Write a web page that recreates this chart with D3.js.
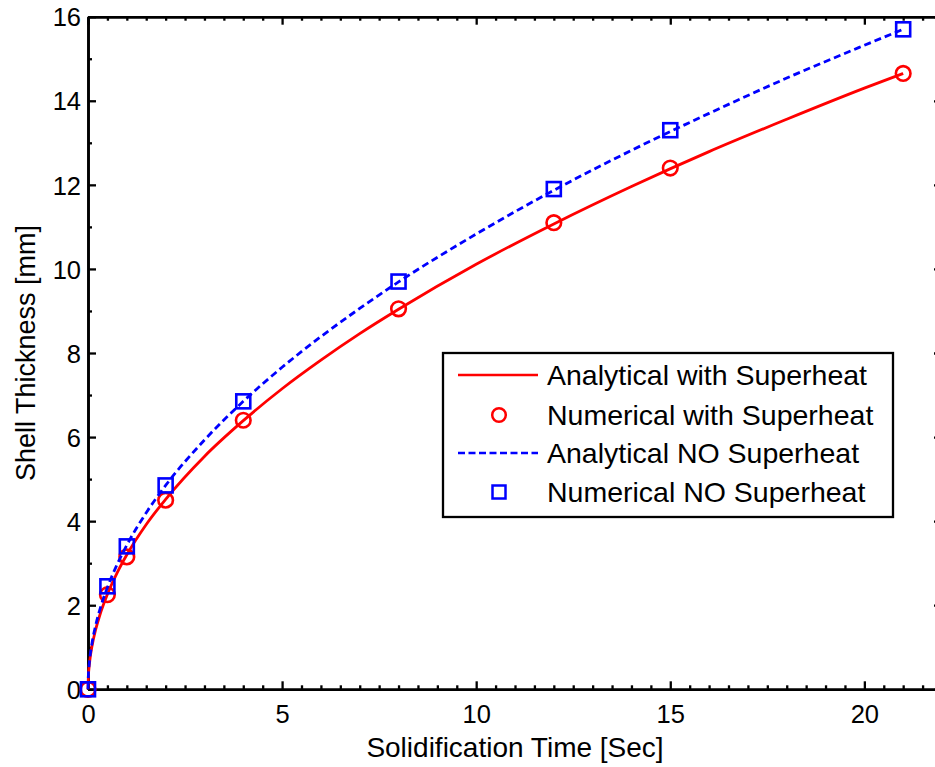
<!DOCTYPE html>
<html>
	<head>
		<script src="https://d3js.org/d3.v7.min.js"></script>
		<title>Shell thickness vs solidification time</title>
		<style>
			body { margin: 0; background: #fff; }
			text { font-family: "Liberation Sans", Arial, sans-serif; fill: #000; }
		</style>
	</head>
	<body>
		<div id="chart"></div>
		<script>
			// analytical curves, values
			const lineTime = [0, 0.01, 0.02, 0.05, 0.1, 0.2, 0.3, 0.5, 0.75, 1, 1.5, 2, 3, 4, 5, 6, 7, 8, 10, 12, 14, 16, 18, 20, 21];
			const analyticalWith = [0, 0.32, 0.45, 0.715, 1.01, 1.43, 1.75, 2.26, 2.77, 3.2, 3.92, 4.52, 5.54, 6.39, 7.15, 7.83, 8.46, 9.04, 10.11, 11.07, 11.96, 12.79, 13.56, 14.3, 14.65];
			const analyticalNo = [0, 0.34, 0.48, 0.77, 1.08, 1.53, 1.88, 2.42, 2.97, 3.43, 4.2, 4.85, 5.93, 6.85, 7.66, 8.39, 9.06, 9.69, 10.83, 11.87, 12.82, 13.7, 14.54, 15.32, 15.7];

			// numerical points
			const numTime = [0, 0.5, 1, 2, 4, 8, 12, 15, 21];
			const numericalWith = [0, 2.25, 3.15, 4.5, 6.4, 9.05, 11.1, 12.4, 14.65];
			const numericalNo = [0, 2.45, 3.4, 4.85, 6.85, 9.7, 11.9, 13.3, 15.7];

			const legendLabels = ["Analytical with Superheat", "Numerical with Superheat", "Analytical NO Superheat", "Numerical NO Superheat"];
			const xMajor = [0, 5, 10, 15, 20];
			const yMajor = [0, 2, 4, 6, 8, 10, 12, 14, 16];

			const W = 935, H = 767;
			const x = d3.scaleLinear().domain([0, 22]).range([88, 942]);
			const y = d3.scaleLinear().domain([0, 16]).range([689.3, 16.7]);

			const svg = d3.select("#chart").append("svg")
				.attr("width", W).attr("height", H)
				.style("background", "#fff");

			const xMinor = d3.range(0, 22.01, 0.5).filter(v => v % 5 !== 0);
			const yMinor = d3.range(1, 16, 2);

			// box axes with inward ticks
			function styleAxis(g) {
				g.select(".domain").attr("stroke", "#000").attr("stroke-width", 2.6);
				g.selectAll(".tick line").attr("stroke", "#000").attr("stroke-width", 2.3);
			}

			const axes = [
				[d3.axisBottom(x).tickValues(xMajor).tickSize(-8).tickSizeOuter(0), `translate(0,${y(0)})`],
				[d3.axisBottom(x).tickValues(xMinor).tickSize(-4).tickSizeOuter(0).tickFormat(""), `translate(0,${y(0)})`],
				[d3.axisTop(x).tickValues(xMajor).tickSize(-8).tickSizeOuter(0).tickFormat(""), `translate(0,${y(16)})`],
				[d3.axisTop(x).tickValues(xMinor).tickSize(-4).tickSizeOuter(0).tickFormat(""), `translate(0,${y(16)})`],
				[d3.axisLeft(y).tickValues(yMajor).tickSize(-8).tickSizeOuter(0), `translate(${x(0)},0)`],
				[d3.axisLeft(y).tickValues(yMinor).tickSize(-4).tickSizeOuter(0).tickFormat(""), `translate(${x(0)},0)`],
				[d3.axisRight(y).tickValues(yMajor).tickSize(-8).tickSizeOuter(0).tickFormat(""), `translate(${x(22)},0)`],
				[d3.axisRight(y).tickValues(yMinor).tickSize(-4).tickSizeOuter(0).tickFormat(""), `translate(${x(22)},0)`]
			];
			const axisGroups = axes.map(([ax, tr]) => {
				const g = svg.append("g").attr("transform", tr).call(ax);
				styleAxis(g);
				return g;
			});

			// tick label placement
			axisGroups[0].selectAll(".tick text")
				.attr("y", 0).attr("dy", 0).attr("transform", "translate(0,34)")
				.style("font-size", "25.5px").style("font-family", '"Liberation Sans", Arial, sans-serif');
			axisGroups[4].selectAll(".tick text")
				.attr("x", -7).attr("dy", "0.36em")
				.style("font-size", "25.5px").style("font-family", '"Liberation Sans", Arial, sans-serif');

			// axis titles
			svg.append("text")
				.attr("x", (x(0) + x(22)) / 2).attr("y", 757)
				.attr("text-anchor", "middle")
				.style("font-size", "28px")
				.text("Solidification Time [Sec]");
			svg.append("text")
				.attr("transform", `translate(35,${(y(0) + y(16)) / 2}) rotate(-90)`)
				.attr("text-anchor", "middle")
				.style("font-size", "27px")
				.text("Shell Thickness [mm]");

			const line = d3.line()
				.x(d => x(d[0]))
				.y(d => y(d[1]))
				.curve(d3.curveMonotoneX);

			const redLine = lineTime.map((t, i) => [t, analyticalWith[i]]);
			const blueLine = lineTime.map((t, i) => [t, analyticalNo[i]]);
			const redPts = numTime.map((t, i) => [t, numericalWith[i]]);
			const bluePts = numTime.map((t, i) => [t, numericalNo[i]]);

			svg.append("path").datum(redLine)
				.attr("d", line).attr("fill", "none")
				.attr("stroke", "#ff0000").attr("stroke-width", 2.8);

			svg.selectAll("circle.num").data(redPts).enter()
				.append("circle").attr("class", "num")
				.attr("cx", d => x(d[0])).attr("cy", d => y(d[1]))
				.attr("r", 7.3).attr("fill", "none")
				.attr("stroke", "#ff0000").attr("stroke-width", 2.6);

			svg.append("path").datum(blueLine)
				.attr("d", line).attr("fill", "none")
				.attr("stroke", "#0000ff").attr("stroke-width", 2.8)
				.attr("stroke-dasharray", "7,4");

			svg.selectAll("rect.num").data(bluePts).enter()
				.append("rect").attr("class", "num")
				.attr("x", d => x(d[0]) - 7).attr("y", d => y(d[1]) - 7)
				.attr("width", 14).attr("height", 14).attr("fill", "none")
				.attr("stroke", "#0000ff").attr("stroke-width", 2.6);

			// legend
			const leg = svg.append("g").attr("transform", "translate(443,353)");
			leg.append("rect")
				.attr("width", 450).attr("height", 164)
				.attr("fill", "#fff").attr("stroke", "#000").attr("stroke-width", 2.3);

			const rowY = [22, 62, 100, 139];
			leg.append("line").attr("x1", 15).attr("x2", 95).attr("y1", rowY[0]).attr("y2", rowY[0])
				.attr("stroke", "#ff0000").attr("stroke-width", 2.6);
			leg.append("circle").attr("cx", 56).attr("cy", rowY[1]).attr("r", 6.8)
				.attr("fill", "none").attr("stroke", "#ff0000").attr("stroke-width", 2.5);
			leg.append("line").attr("x1", 15).attr("x2", 95).attr("y1", rowY[2]).attr("y2", rowY[2])
				.attr("stroke", "#0000ff").attr("stroke-width", 2.6).attr("stroke-dasharray", "7,3.5");
			leg.append("rect").attr("x", 56 - 6.5).attr("y", rowY[3] - 6.5).attr("width", 13).attr("height", 13)
				.attr("fill", "none").attr("stroke", "#0000ff").attr("stroke-width", 2.5);

			leg.selectAll("text.lab").data(legendLabels).enter()
				.append("text").attr("class", "lab")
				.attr("x", 104).attr("y", (d, i) => rowY[i] + 10)
				.style("font-size", "28.5px")
				.text(d => d);
		</script>
	</body>
</html>
